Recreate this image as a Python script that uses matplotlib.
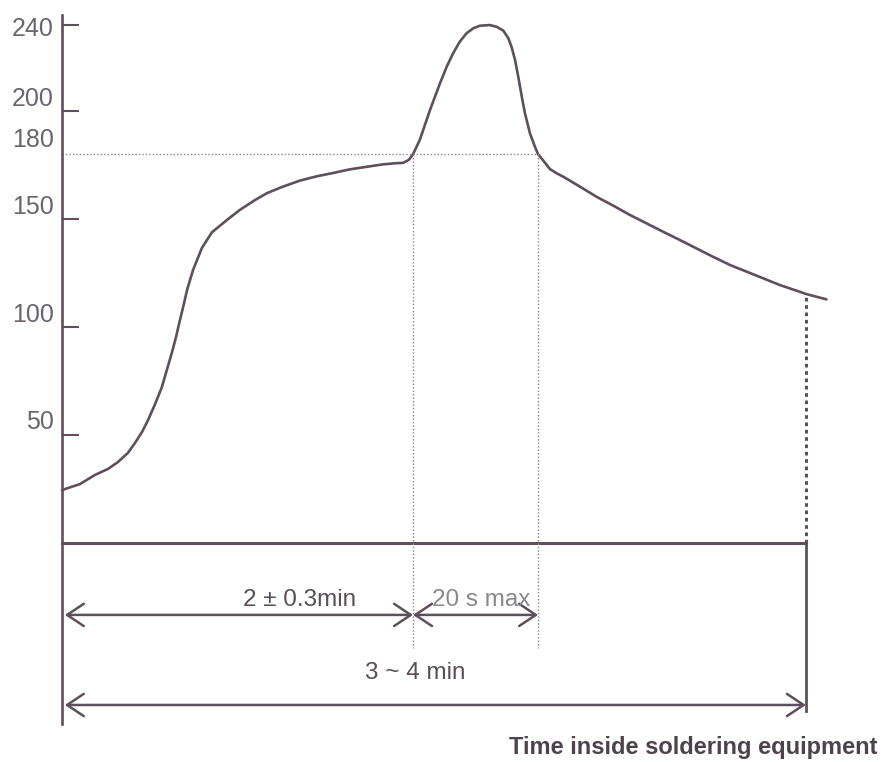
import numpy as np
import matplotlib; matplotlib.use("Agg")
import matplotlib.pyplot as plt

plt.rcParams['font.family'] = ['Liberation Sans', 'DejaVu Sans']

# --- soldering profile (time in s, temperature in deg C) ---
t = [0, 5.1, 9.3, 13.0, 15.8, 18.6, 20.6, 22.6, 24.3, 26.3, 28.2, 29.6, 31.0, 32.2,
     33.3, 34.4, 35.3, 37.0, 39.5, 42.3, 46.9, 50.2, 54.5, 57.9, 62.4, 67.2, 72.0,
     76.5, 81.3, 86.1, 90.6, 94.0, 96.3, 97.9, 99.1,
     101.0, 103.9, 106.7, 108.6, 110.4, 112.3, 114.2, 116.1, 118.0, 120.8, 122.7,
     124.6, 126.0, 126.9, 127.9, 128.8, 129.8, 130.7, 132.1, 133.5, 134.4,
     135.9, 137.7, 139.6, 141.5, 146.2, 150.9, 155.6, 160.3, 165.0, 169.7, 174.4,
     179.1, 183.8, 188.6, 193.3, 198.0, 202.7, 207.4, 210.0, 215.8]
temp = [24.5, 27.3, 31.5, 34.3, 37.5, 41.7, 46.3, 51.4, 56.9, 64.4, 72.2, 80.1, 88.0, 95.4,
        103.2, 110.6, 117.1, 126.4, 136.6, 143.8, 150.0, 154.2, 158.8, 162.0, 165.0, 167.8,
        169.8, 171.3, 173.0, 174.2, 175.3, 175.8, 176.0, 177.4, 180.0,
        186.6, 200.5, 212.8, 220.5, 226.7, 232.1, 236.0, 238.3, 239.5, 239.8, 239.0,
        237.2, 233.7, 229.8, 223.6, 215.9, 206.6, 198.9, 189.7, 183.5, 180.0,
        177.0, 173.2, 171.2, 169.6, 165.0, 160.3, 156.2, 151.9, 148.0, 144.1, 140.3,
        136.4, 132.5, 128.7, 125.6, 122.5, 119.4, 116.8, 115.3, 112.8]
yticks = [50, 100, 150, 200, 240]
ylabels = ['50', '100', '150', '200', '240']
level = 180          # dotted reference temperature
t_start, t_peak_in, t_peak_out, t_end = 0, 99.1, 134.4, 210
t_end_temp = 115.3

col = '#5e4f5c'
fig = plt.figure(figsize=(8.87, 7.62), dpi=100)
ax = fig.add_axes([0, 0, 1, 1])
# pixel-matched limits
ax.set_xlim(-17.5, 232.9)
ax.set_ylim(-101.4, 251.4)
for s in ['top', 'right', 'bottom']:
    ax.spines[s].set_visible(False)
ax.spines['left'].set_position(('data', 0))
ax.spines['left'].set_bounds(-84, 244.5)
ax.spines['left'].set_color(col); ax.spines['left'].set_linewidth(1.9)
ax.set_xticks([])
ax.set_yticks(yticks)
ax.tick_params(axis='y', direction='in', length=12, width=1.5, color=col, labelleft=False)
for v, lab in zip(yticks, ylabels):
    dy = -3 if v == 240 else 9
    ax.annotate(lab, xy=(0, v), xytext=(-6, dy), textcoords='offset points',
                ha='right', va='center', fontsize=18, color='#6b6470')
ax.annotate('180', xy=(0, level), xytext=(-6, 10), textcoords='offset points',
            ha='right', va='center', fontsize=18, color='#6b6470')

# curve
ax.plot(t, temp, color=col, lw=1.9, solid_joinstyle='round', solid_capstyle='round')

# baseline and verticals
ax.plot([t_start, t_end], [0, 0], color=col, lw=2.2)
ax.plot([t_end, t_end], [0, -78], color=col, lw=2.0)
ax.plot([t_end, t_end], [0, t_end_temp], color=col, lw=2.2, ls=(0, (1.2, 1.2)))
ax.plot([t_start, t_peak_out], [level, level], color='#8a8392', lw=1.0, ls=(0, (1, 1.5)))
for tv in [t_peak_in, t_peak_out]:
    ax.plot([tv, tv], [level, -48.6], color='#8a8392', lw=1.0, ls=(0, (1, 1.5)))

# dimension arrows
aprops = dict(arrowstyle='<->,head_length=0.6,head_width=0.4', lw=1.8, color=col,
              shrinkA=0, shrinkB=0, mutation_scale=20)
ax.annotate('', xy=(t_start + 0.8, -33.3), xytext=(t_peak_in, -33.3), arrowprops=aprops)
ax.annotate('', xy=(t_peak_in, -33.3), xytext=(t_peak_out, -33.3), arrowprops=aprops)
ax.annotate('', xy=(t_start + 0.8, -75), xytext=(t_end, -75), arrowprops=aprops)

ax.text(67.2, -26.4, '2 ± 0.3min', ha='center', va='center', fontsize=17.5, color='#5a4d58')
ax.text(118.3, -26.4, '20 s max', ha='center', va='center', fontsize=17.5, color='#8a8590')
ax.text(99.6, -60.2, '3 ~ 4 min', ha='center', va='center', fontsize=17.5, color='#5a4d58')
ax.text(230.3, -94.9, 'Time inside soldering equipment', ha='right', va='center',
        fontsize=17, fontweight='bold', color='#4e434c')

fig.savefig('out.png', dpi=100)
